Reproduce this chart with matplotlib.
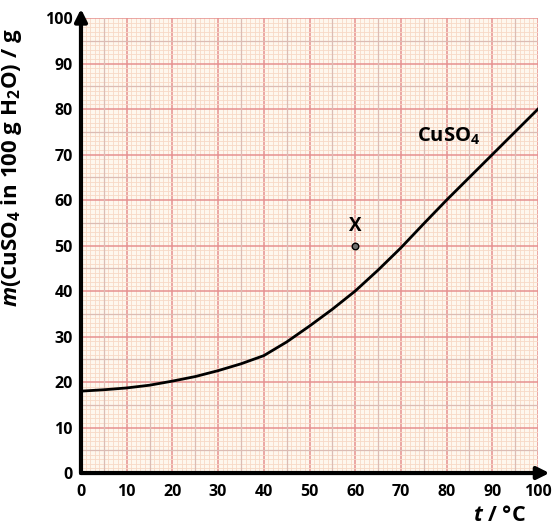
import matplotlib.pyplot as plt
from matplotlib.ticker import MultipleLocator

# 데이터
temp = [0, 5, 10, 15, 20, 25, 30, 35, 40, 45, 50, 55, 60, 65, 70, 75, 80, 85, 90, 95, 100]
mass = [18, 18.3, 18.7, 19.3, 20.2, 21.2, 22.5, 24, 25.8, 28.8, 32.3, 36, 40, 44.6,
        49.5, 54.8, 60, 65, 70, 75, 80]
point_x = [60]
point_y = [50]
ticks = list(range(0, 101, 10))

plt.rcParams["font.family"] = ["Open Sans", "DejaVu Sans"]
plt.rcParams["font.weight"] = "bold"
plt.rcParams["axes.labelweight"] = "bold"
plt.rcParams["mathtext.fontset"] = "custom"
plt.rcParams["mathtext.rm"] = "Open Sans:bold"
plt.rcParams["mathtext.it"] = "Open Sans:bold:italic"
plt.rcParams["mathtext.bf"] = "Open Sans:bold"

fig = plt.figure(figsize=(5.52, 5.3), dpi=100)
ax = fig.add_axes([0.1467, 0.1075, 0.828, 0.8585])
ax.set_facecolor("#fef7ee")

# 모눈 종이
ax.xaxis.set_minor_locator(MultipleLocator(1))
ax.yaxis.set_minor_locator(MultipleLocator(1))
ax.grid(which="minor", color="#f7d9c6", lw=0.6)
for v in range(5, 100, 10):
    ax.axvline(v, color="#dcbcb4", lw=0.9, zorder=0.6)
    ax.axhline(v, color="#dcbcb4", lw=0.9, zorder=0.6)
ax.grid(which="major", color="#e69090", lw=1.1)
ax.set_axisbelow(True)

# 곡선
ax.plot(temp, mass, color="black", lw=2, zorder=3)
ax.scatter(point_x, point_y, s=22, color="#707070", edgecolors="black", lw=1, zorder=4)
ax.text(point_x[0], point_y[0] + 2.2, "X", ha="center", va="bottom", fontsize=13.5)
ax.text(80.5, 74, r"CuSO$_4$", ha="center", va="center", fontsize=14.5)

ax.set_xlim(0, 100)
ax.set_ylim(0, 100)
ax.set_xticks(ticks)
ax.set_yticks(ticks)
ax.tick_params(which="both", length=0, labelsize=11.5)
ax.tick_params(axis="x", pad=8)
ax.tick_params(axis="y", pad=6)
for s in ax.spines.values():
    s.set_visible(False)

# 축 화살표
ax.annotate("", xy=(1.025, 0), xytext=(0, 0), xycoords="axes fraction",
            arrowprops=dict(arrowstyle="-|>", lw=3, color="black", mutation_scale=18,
                            shrinkA=0, shrinkB=0), annotation_clip=False)
ax.annotate("", xy=(0, 1.02), xytext=(0, 0), xycoords="axes fraction",
            arrowprops=dict(arrowstyle="-|>", lw=3, color="black", mutation_scale=18,
                            shrinkA=0, shrinkB=0), annotation_clip=False)

ax.set_ylabel(r"$\it{m}$(CuSO$_4$ in 100 g H$_2$O) / g", fontsize=16)
ax.yaxis.set_label_coords(-0.125, 0.67)
fig.text(0.905, 0.008, r"$\it{t}$ / °C", ha="center", va="bottom", fontsize=15.5)

fig.savefig("out.png", dpi=100)
